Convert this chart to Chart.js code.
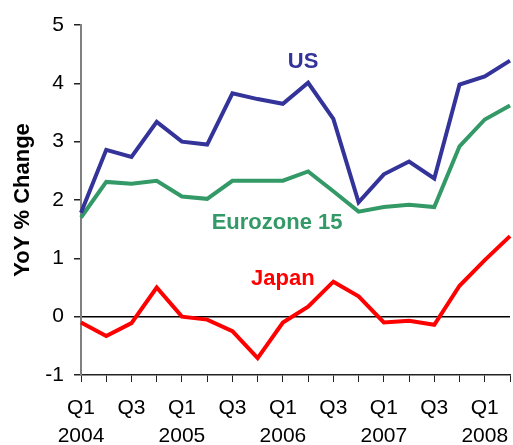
<!DOCTYPE html>
<html>
<head>
<meta charset="utf-8">
<script src="https://cdn.jsdelivr.net/npm/chart.js@4/dist/chart.umd.min.js"></script>
<style>
  html, body { margin: 0; padding: 0; background: #fff; }
  #wrap { width: 513px; height: 445px; }
</style>
</head>
<body>
<div id="wrap"><canvas id="c" width="513" height="445"></canvas></div>
<script>
const quarters = ['Q1', 'Q2', 'Q3', 'Q4', 'Q1', 'Q2', 'Q3', 'Q4', 'Q1', 'Q2', 'Q3', 'Q4', 'Q1', 'Q2', 'Q3', 'Q4', 'Q1', 'Q2'];
const years = ['2004', '', '', '', '2005', '', '', '', '2006', '', '', '', '2007', '', '', '', '2008', ''];
const usValues = [1.78, 2.86, 2.74, 3.34, 3.0, 2.95, 3.83, 3.73, 3.65, 4.01, 3.39, 1.96, 2.44, 2.66, 2.37, 3.98, 4.12, 4.39];
const euroValues = [1.70, 2.31, 2.28, 2.33, 2.06, 2.02, 2.33, 2.33, 2.33, 2.49, 2.15, 1.80, 1.88, 1.92, 1.88, 2.92, 3.38, 3.62];
const japanValues = [-0.10, -0.33, -0.11, 0.50, 0.0, -0.05, -0.25, -0.71, -0.10, 0.17, 0.60, 0.35, -0.10, -0.07, -0.14, 0.53, 0.97, 1.38];

const FONT = "'Liberation Sans', Arial, sans-serif";
const C_US = '#333399', C_EU = '#339966', C_JP = '#ff0000';

// series names written next to the lines (x as category index, y as value)
const seriesLabels = [
  { text: 'US', x: 8.8, y: 4.36, color: C_US },
  { text: 'Eurozone 15', x: 7.77, y: 1.6, color: C_EU },
  { text: 'Japan', x: 8.0, y: 0.65, color: C_JP },
];

const labelPlugin = {
  id: 'seriesLabels',
  afterDatasetsDraw(chart) {
    const { ctx, scales } = chart;
    ctx.save();
    ctx.font = 'bold 22px ' + FONT;
    ctx.textAlign = 'center';
    ctx.textBaseline = 'middle';
    seriesLabels.forEach(l => {
      ctx.fillStyle = l.color;
      ctx.fillText(l.text, scales.x.getPixelForValue(l.x), scales.y.getPixelForValue(l.y));
    });
    ctx.restore();
  }
};

const line = (data, color) => ({
  data, borderColor: color, backgroundColor: color,
  borderWidth: 4, pointRadius: 0, tension: 0,
});

new Chart(document.getElementById('c'), {
  type: 'line',
  data: {
    labels: quarters,
    datasets: [line(usValues, C_US), line(euroValues, C_EU), line(japanValues, C_JP)],
  },
  options: {
    responsive: false,
    animation: false,
    layout: { padding: { top: 25, right: 3, left: 0, bottom: 0 } },
    plugins: { legend: { display: false }, tooltip: { enabled: false } },
    scales: {
      x: {
        offset: false,
        grid: { drawOnChartArea: false, tickLength: 7, color: '#222', tickColor: '#222' },
        border: { color: '#222', width: 1.5 },
        ticks: {
          autoSkip: false, maxRotation: 0, minRotation: 0, padding: 12,
          color: '#000', font: { family: FONT, size: 21, lineHeight: 1.33 },
          callback: (v, i) => (i % 2 === 0 ? (years[i] ? [quarters[i], years[i]] : quarters[i]) : ''),
        },
        afterFit: s => { s.height = 70; s.paddingLeft = 0; s.paddingRight = 0; },
      },
      y: {
        min: -1, max: 5,
        grid: {
          tickLength: 7,
          color: ctx => (ctx.tick && ctx.tick.value === 0 ? '#000' : 'rgba(0,0,0,0)'),
          lineWidth: 1.5,
          tickColor: '#222',
        },
        border: { color: '#808080', width: 2 },
        ticks: { stepSize: 1, padding: 10, color: '#000', font: { family: FONT, size: 21 } },
        title: {
          display: true, text: 'YoY % Change', color: '#000',
          font: { family: FONT, size: 22, weight: 'bold' }, padding: { top: 10, bottom: 0 },
        },
        afterFit: s => { s.width = 81; },
      },
    },
  },
  plugins: [labelPlugin],
});
</script>
</body>
</html>
